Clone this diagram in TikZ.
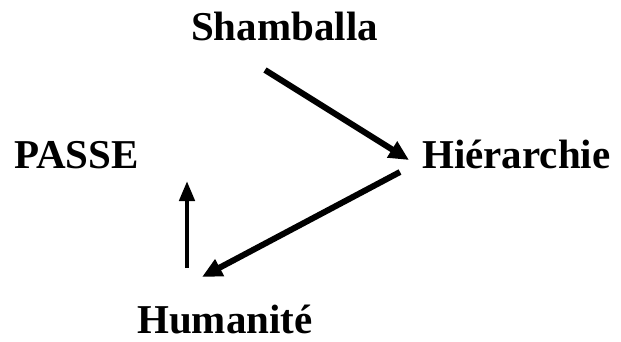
\documentclass[tikz,border=0pt]{standalone}
\usepackage{fontspec}
\setmainfont{Liberation Serif}
\usetikzlibrary{arrows.meta}
\begin{document}
\begin{tikzpicture}[x=1pt,y=-1pt,
  lbl/.style={font=\fontsize{41}{48}\selectfont\bfseries, inner sep=0pt, anchor=base west},
  arr/.style={line width=6pt, -{Triangle[length=20pt,width=18pt]}},
  varr/.style={line width=4.5pt, -{Triangle[length=20pt,width=15pt]}}]
\useasboundingbox (0,0) rectangle (621,342);
\node[lbl] (sh) at (191,41) {Shamballa};
\node[lbl] (pa) at (14,168) {PASSE};
\node[lbl] (hi) at (422,168) {Hiérarchie};
\node[lbl] (hu) at (137,333) {Humanité};
\coordinate (a1s) at (265,70);
\coordinate (a1e) at (409,160);
\coordinate (a2s) at (400,172);
\coordinate (a2e) at (202,277);
\coordinate (a3s) at (187,268);
\coordinate (a3e) at (187,181);
\draw[arr] (a1s) -- (a1e);
\draw[arr] (a2s) -- (a2e);
\draw[varr] (a3s) -- (a3e);
\end{tikzpicture}
\end{document}
